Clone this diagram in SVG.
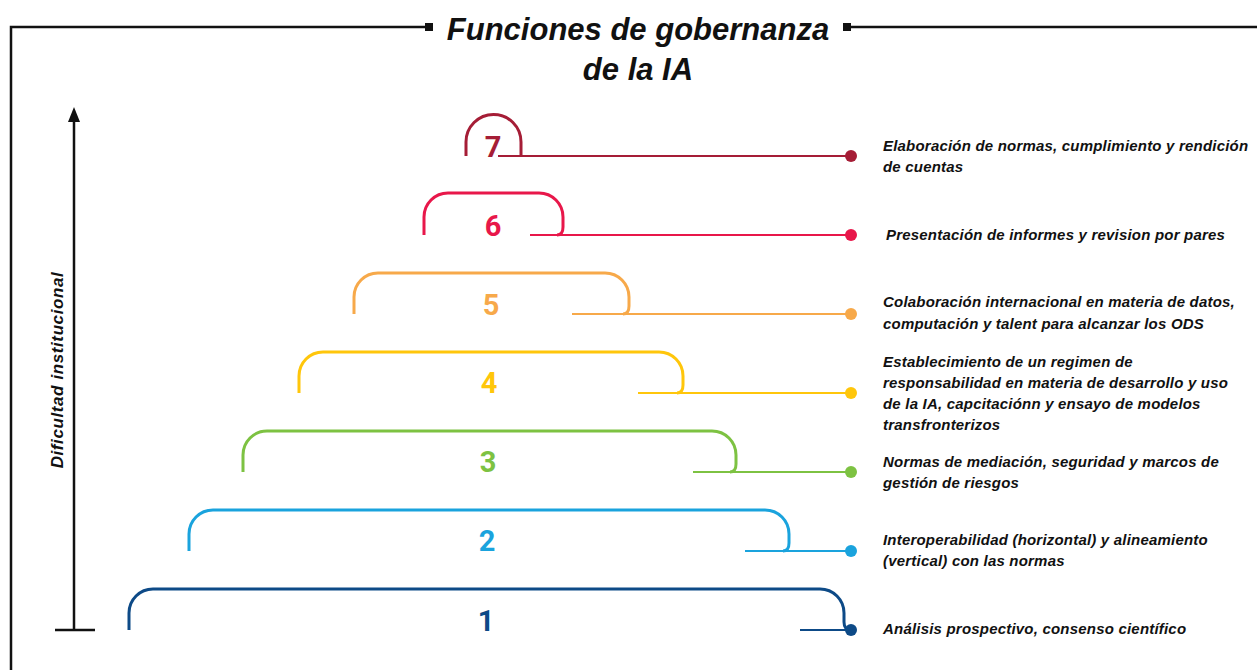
<svg xmlns="http://www.w3.org/2000/svg" width="1257" height="670" viewBox="0 0 1257 670">
<style>
.frame{stroke:#111;stroke-width:2.5;fill:none}
.title{font-family:"Liberation Sans",Arial,sans-serif;font-weight:bold;font-style:italic;font-size:31px;fill:#111;text-anchor:middle}
.lbl{font-family:"Liberation Sans",Arial,sans-serif;font-weight:bold;font-style:italic;font-size:15px;letter-spacing:0.2px;fill:#111}
.num{font-family:Roboto,"Liberation Sans",sans-serif;font-weight:bold;font-size:29px;text-anchor:middle}
.br{fill:none;stroke-width:3}
.ln{fill:none;stroke-width:2.2}
</style>
<rect width="1257" height="670" fill="#fff"/>
<g id="frame">
<path class="frame" d="M11,670 V27 H428"/>
<path class="frame" d="M848,27 H1257"/>
<rect x="425" y="23" width="8" height="8" fill="#111"/>
<rect x="843" y="23" width="8" height="8" fill="#111"/>
</g>
<g id="title">
<text class="title" x="638" y="40">Funciones de gobernanza</text>
<text class="title" x="638" y="80">de la IA</text>
</g>
<g id="axis">
<line x1="74" y1="630" x2="74" y2="121" stroke="#111" stroke-width="2.5"/>
<path d="M68,122 L74,107 L80,122 Z" fill="#111"/>
<line x1="55" y1="630" x2="95" y2="630" stroke="#111" stroke-width="2.5"/>
<text class="lbl" transform="translate(63,370) rotate(-90)" text-anchor="middle" style="font-size:17px;letter-spacing:0.6px">Dificultad institucional</text>
</g>
<g id="connectors">
<line class="ln" x1="498" y1="156" x2="851" y2="156" stroke="#a51d36"/>
<line class="ln" x1="530" y1="235" x2="851" y2="235" stroke="#e8174a"/>
<line class="ln" x1="572" y1="314" x2="851" y2="314" stroke="#f7a94a"/>
<line class="ln" x1="638" y1="393" x2="851" y2="393" stroke="#ffc60b"/>
<line class="ln" x1="693" y1="472" x2="851" y2="472" stroke="#7dc242"/>
<line class="ln" x1="745" y1="551" x2="851" y2="551" stroke="#1aa3dd"/>
<line class="ln" x1="800" y1="630" x2="851" y2="630" stroke="#0d4a87"/>
</g>
<g id="level7">
<path class="br" stroke="#a51d36" d="M466,156 V142 A27.5,27.5 0 0 1 521,142 V156"/>
<text class="num" x="493" y="157" fill="#a51d36">7</text>
<circle cx="851" cy="156" r="6" fill="#a51d36"/>
<text class="lbl" x="883" y="151">Elaboración de normas, cumplimiento y rendición</text>
<text class="lbl" x="883" y="172">de cuentas</text>
</g>
<g id="level6">
<path class="br" stroke="#e8174a" d="M424,235 V217 A24,24 0 0 1 448,193 H539 A24,24 0 0 1 563,217 V227 Q563,235 557,235"/>
<text class="num" x="493" y="236" fill="#e8174a">6</text>
<circle cx="851" cy="235" r="6" fill="#e8174a"/>
<text class="lbl" x="886" y="240">Presentación de informes y revision por pares</text>
</g>
<g id="level5">
<path class="br" stroke="#f7a94a" d="M354,314 V297 A24,24 0 0 1 378,273 H605 A24,24 0 0 1 629,297 V306 Q629,314 623,314"/>
<text class="num" x="491" y="315" fill="#f7a94a">5</text>
<circle cx="851" cy="314" r="6" fill="#f7a94a"/>
<text class="lbl" x="883" y="307">Colaboración internacional en materia de datos,</text>
<text class="lbl" x="883" y="329">computación y talent para alcanzar los ODS</text>
</g>
<g id="level4">
<path class="br" stroke="#ffc60b" d="M299,393 V376 A24,24 0 0 1 323,352 H659 A24,24 0 0 1 683,376 V385 Q683,393 677,393"/>
<text class="num" x="489" y="393" fill="#ffc60b">4</text>
<circle cx="851" cy="393" r="6" fill="#ffc60b"/>
<text class="lbl" x="883" y="367">Establecimiento de un regimen de</text>
<text class="lbl" x="883" y="388">responsabilidad en materia de desarrollo y uso</text>
<text class="lbl" x="883" y="409">de la IA, capcitaciónn y ensayo de modelos</text>
<text class="lbl" x="883" y="430">transfronterizos</text>
</g>
<g id="level3">
<path class="br" stroke="#7dc242" d="M243,472 V455 A24,24 0 0 1 267,431 H712 A24,24 0 0 1 736,455 V464 Q736,472 730,472"/>
<text class="num" x="488" y="472" fill="#7dc242">3</text>
<circle cx="851" cy="472" r="6" fill="#7dc242"/>
<text class="lbl" x="883" y="467">Normas de mediación, seguridad y marcos de</text>
<text class="lbl" x="883" y="488">gestión de riesgos</text>
</g>
<g id="level2">
<path class="br" stroke="#1aa3dd" d="M189,551 V534 A24,24 0 0 1 213,510 H765 A24,24 0 0 1 789,534 V543 Q789,551 783,551"/>
<text class="num" x="487" y="551" fill="#1aa3dd">2</text>
<circle cx="851" cy="551" r="6" fill="#1aa3dd"/>
<text class="lbl" x="883" y="545">Interoperabilidad (horizontal) y alineamiento</text>
<text class="lbl" x="883" y="566">(vertical) con las normas</text>
</g>
<g id="level1">
<path class="br" stroke="#0d4a87" d="M129,630 V613 A24,24 0 0 1 153,589 H820 A24,24 0 0 1 844,613 V622 Q844,630 851,630"/>
<text class="num" x="486" y="631" fill="#0d4a87">1</text>
<circle cx="851" cy="630" r="6" fill="#0d4a87"/>
<text class="lbl" x="883" y="634">Análisis prospectivo, consenso científico</text>
</g>
</svg>
